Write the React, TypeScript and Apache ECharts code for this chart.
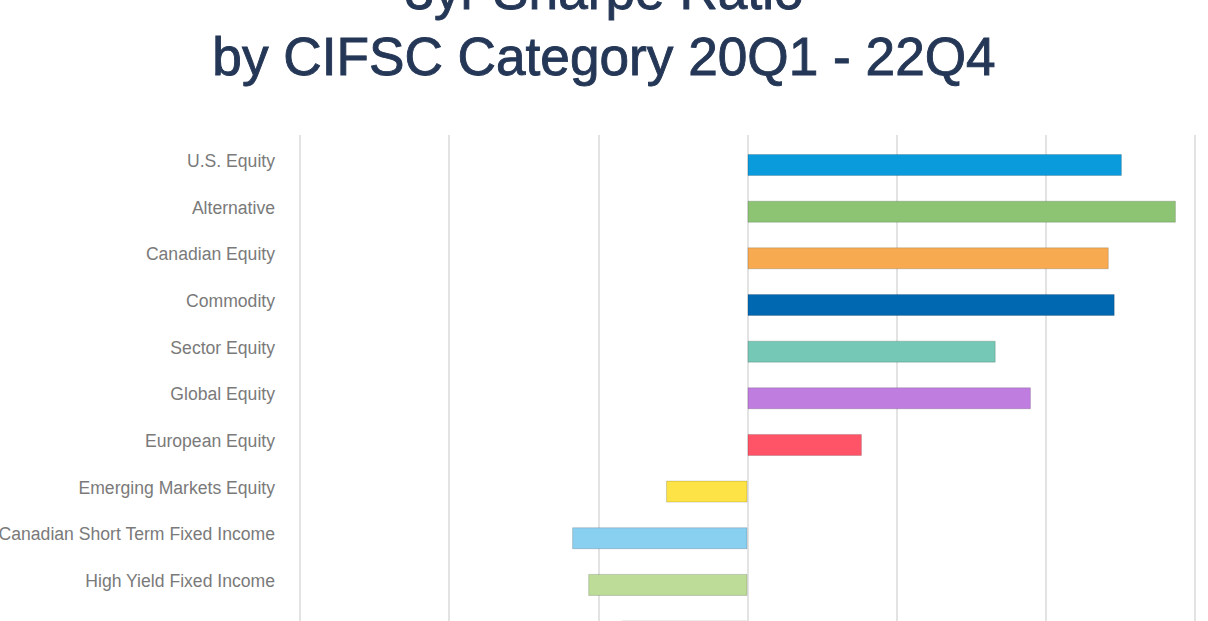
import React, { useEffect, useRef } from "react";
import * as echarts from "echarts";

const categories = [
  "U.S. Equity",
  "Alternative",
  "Canadian Equity",
  "Commodity",
  "Sector Equity",
  "Global Equity",
  "European Equity",
  "Emerging Markets Equity",
  "Canadian Short Term Fixed Income",
  "High Yield Fixed Income",
  "Greater China Equity",
];

const sharpe = [0.2510, 0.2872, 0.2422, 0.2462, 0.1664, 0.1900, 0.0767, -0.0546, -0.1176, -0.1068, -0.0846];

const barColors = [
  "#0A9BDD",
  "#8CC474",
  "#F7AA50",
  "#0068B0",
  "#74C8B5",
  "#C07DE0",
  "#FF5468",
  "#FDE345",
  "#89CFF0",
  "#BDDC98",
  "#F09CF0",
];

const xMin = -0.3;
const xMax = 0.3;
const xStep = 0.1;

export default function App() {
  const ref = useRef<HTMLDivElement>(null);
  useEffect(() => {
    if (!ref.current) return;
    const chart = echarts.init(ref.current, null, { renderer: "svg" });
    const bandH = 46.65;
    const gridTop = 141.7;
    const gridH = bandH * categories.length;
    chart.setOption({
      animation: false,
      backgroundColor: "#ffffff",
      title: {
        text: "3yr Sharpe Ratio\nby CIFSC Category 20Q1 - 22Q4",
        left: "center",
        top: -48,
        padding: [5, 0, 5, 9],
        textStyle: {
          fontFamily: "Liberation Sans",
          fontSize: 53.2,
          fontWeight: "normal",
          lineHeight: 66,
          color: "#253756",
          textBorderColor: "#253756",
          textBorderWidth: 0.9,
        },
      },
      grid: [
        { left: 300, right: 13, top: gridTop, height: gridH, outerBoundsMode: "none", containLabel: false },
        { left: 300, right: 13, top: 135, height: gridH + (gridTop - 135), outerBoundsMode: "none", containLabel: false },
      ],
      xAxis: [
        {
          gridIndex: 0,
          type: "value",
          min: xMin,
          max: xMax,
          interval: xStep,
          splitLine: { show: false },
          axisLine: { show: false },
          axisTick: { show: false },
          axisLabel: { color: "#7a7a7a", fontSize: 17, fontFamily: "Liberation Sans" },
        },
        {
          gridIndex: 1,
          type: "value",
          min: xMin,
          max: xMax,
          interval: xStep,
          splitLine: { show: true, lineStyle: { color: "#e3e3e3", width: 2 } },
          axisLine: { show: false },
          axisTick: { show: false },
          axisLabel: { show: false },
        },
      ],
      yAxis: [
        {
          gridIndex: 0,
          type: "category",
          data: categories,
          inverse: true,
          axisLine: { show: false },
          axisTick: { show: false },
          splitLine: { show: false },
          axisLabel: {
            margin: 25,
            color: "#7a7a7a",
            fontSize: 17.6,
            fontFamily: "Liberation Sans",
            verticalAlign: "bottom",
            lineHeight: 8,
          },
        },
        {
          gridIndex: 1,
          type: "value",
          min: 0,
          max: 1,
          show: false,
          splitLine: { show: false },
        },
      ],
      series: [
        {
          type: "bar",
          xAxisIndex: 0,
          yAxisIndex: 0,
          barWidth: 22,
          data: sharpe.map((v, i) => ({
            value: v,
            itemStyle: {
              color: barColors[i],
              borderColor: "rgba(0,0,0,0.16)",
              borderWidth: 1,
            },
          })),
        },
      ],
    });
    return () => chart.dispose();
  }, []);
  return (
    <div style={{ position: "fixed", left: 0, top: 0, width: 1208, height: 621, overflow: "hidden", background: "#fff" }}>
      <div ref={ref} style={{ width: 1208, height: 720 }} />
    </div>
  );
}
